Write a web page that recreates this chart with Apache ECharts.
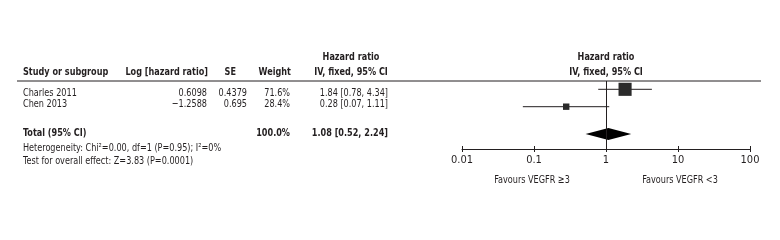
<!DOCTYPE html>
<html>
<head>
<meta charset="utf-8">
<script src="https://cdn.jsdelivr.net/npm/echarts@6/dist/echarts.min.js"></script>
<style>
  html, body { margin: 0; background: #fff; }
  #chart { width: 780px; height: 240px; }
</style>
</head>
<body>
<div id="chart"></div>
<script>
// study rows
const studies = ['Charles 2011', 'Chen 2013'];
const logHR = ['0.6098', '\u22121.2588'];
const se = ['0.4379', '0.695'];
const weights = [71.6, 28.4];
const hr = [1.84, 0.28];
const ciLow = [0.78, 0.07];
const ciHigh = [4.34, 1.11];

// pooled estimate: [hr, low, high]
const totalHR = [1.08, 0.52, 2.24];
const totalWeight = 100.0;
const heterogeneity = 'Heterogeneity: Chi\u00b2=0.00, df=1 (P=0.95); I\u00b2=0%';
const overallTest = 'Test for overall effect: Z=3.83 (P=0.0001)';

const tickValues = [0.01, 0.1, 1, 10, 100];
const tickLabels = ['0.01', '0.1', '1', '10', '100'];
const favours = ['Favours VEGFR \u22653', 'Favours VEGFR <3'];

// layout
const FONT = '"Liberation Sans Narrow", "DejaVu Sans Condensed", sans-serif';
const INK = '#231f20';
const NARROW = 0.82; // squeeze to mimic the condensed face
const rowTextY = [93, 104];
const totalY = 133, hetY = 148, testY = 161;
const plotRows = [0.55, 1.7];
const totalRow = 3.5;

const fmt = (v) => v.toFixed(2);
const ciText = (a, b, c) => `${fmt(a)} [${fmt(b)}, ${fmt(c)}]`;

function txt(x, y, s, align, bold) {
  return {
    type: 'text', x: x, y: y, scaleX: NARROW, silent: true,
    style: {
      text: s, fill: INK, font: `${bold ? 'bold ' : ''}11px ${FONT}`,
      textAlign: align || 'left', textVerticalAlign: 'middle'
    }
  };
}

const graphics = [
  { type: 'line', silent: true, shape: { x1: 17, y1: 81, x2: 761, y2: 81 }, style: { stroke: INK, lineWidth: 1 } },
  txt(23, 72, 'Study or subgroup', 'left', true),
  txt(208, 72, 'Log [hazard ratio]', 'right', true),
  txt(236, 72, 'SE', 'right', true),
  txt(291, 72, 'Weight', 'right', true),
  txt(351, 57, 'Hazard ratio', 'center', true),
  txt(351, 72, 'IV, fixed, 95% CI', 'center', true),
  txt(606, 57, 'Hazard ratio', 'center', true),
  txt(606, 72, 'IV, fixed, 95% CI', 'center', true),
  txt(23, totalY, 'Total (95% CI)', 'left', true),
  txt(290, totalY, totalWeight.toFixed(1) + '%', 'right', true),
  txt(388, totalY, ciText(totalHR[0], totalHR[1], totalHR[2]), 'right', true),
  txt(23, hetY, heterogeneity, 'left', false),
  txt(23, testY, overallTest, 'left', false),
  txt(532, 180, favours[0], 'center', false),
  txt(680, 180, favours[1], 'center', false)
];
studies.forEach((s, i) => {
  const y = rowTextY[i];
  graphics.push(
    txt(23, y, s, 'left', false),
    txt(207, y, logHR[i], 'right', false),
    txt(247, y, se[i], 'right', false),
    txt(290, y, weights[i].toFixed(1) + '%', 'right', false),
    txt(388, y, ciText(hr[i], ciLow[i], ciHigh[i]), 'right', false)
  );
});

const studyData = studies.map((s, i) => [hr[i], ciLow[i], ciHigh[i], plotRows[i], weights[i]]);

const chart = echarts.init(document.getElementById('chart'), null, { renderer: 'canvas' });

const logAxis = {
  type: 'log', logBase: 10, min: 0.01, max: 100, gridIndex: 0, position: 'bottom'
};

chart.setOption({
  animation: false,
  grid: { left: 462, width: 288, top: 81, height: 68 },
  xAxis: [
    Object.assign({}, logAxis, {
      axisLine: { show: true, onZero: false, lineStyle: { color: INK, width: 1 } },
      axisTick: { show: true, length: 3, lineStyle: { color: INK } },
      minorTick: { show: false },
      splitLine: { show: false },
      axisLabel: {
        color: INK, fontFamily: FONT, fontSize: 11, margin: 6,
        formatter: (v) => {
          const i = tickValues.findIndex((t) => Math.abs(t - v) / t < 1e-6);
          return i >= 0 ? tickLabels[i] : '';
        }
      }
    }),
    Object.assign({}, logAxis, {
      axisLine: { show: false, onZero: false },
      axisTick: { show: true, inside: true, length: 3, lineStyle: { color: INK } },
      axisLabel: { show: false },
      splitLine: { show: false }
    })
  ],
  yAxis: { type: 'value', min: 0, max: 4.5, inverse: true, show: false },
  series: [
    {
      type: 'custom',
      data: studyData,
      encode: { x: [0, 1, 2], y: 3 },
      renderItem: (params, api) => {
        const c = api.coord([api.value(0), api.value(3)]);
        const lo = api.coord([api.value(1), api.value(3)]);
        const hi = api.coord([api.value(2), api.value(3)]);
        const s = 2 + api.value(4) * 0.155;
        return {
          type: 'group',
          children: [
            { type: 'line', shape: { x1: lo[0], y1: lo[1], x2: hi[0], y2: hi[1] }, style: { stroke: INK, lineWidth: 1 } },
            { type: 'rect', shape: { x: c[0] - s / 2, y: c[1] - s / 2, width: s, height: s }, style: { fill: '#2b2b2b' } }
          ]
        };
      },
      markLine: {
        silent: true, symbol: 'none', label: { show: false },
        lineStyle: { color: INK, type: 'solid', width: 1 },
        data: [{ xAxis: 1 }]
      },
      z: 3
    },
    {
      type: 'custom',
      data: [[totalHR[0], totalHR[1], totalHR[2], totalRow]],
      encode: { x: [0, 1, 2], y: 3 },
      renderItem: (params, api) => {
        const c = api.coord([api.value(0), api.value(3)]);
        const lo = api.coord([api.value(1), api.value(3)]);
        const hi = api.coord([api.value(2), api.value(3)]);
        const h = 6;
        return {
          type: 'polygon',
          shape: { points: [[lo[0], c[1]], [c[0], c[1] - h], [hi[0], c[1]], [c[0], c[1] + h]] },
          style: { fill: '#000' }
        };
      },
      z: 4
    }
  ],
  graphic: graphics
});
</script>
</body>
</html>
